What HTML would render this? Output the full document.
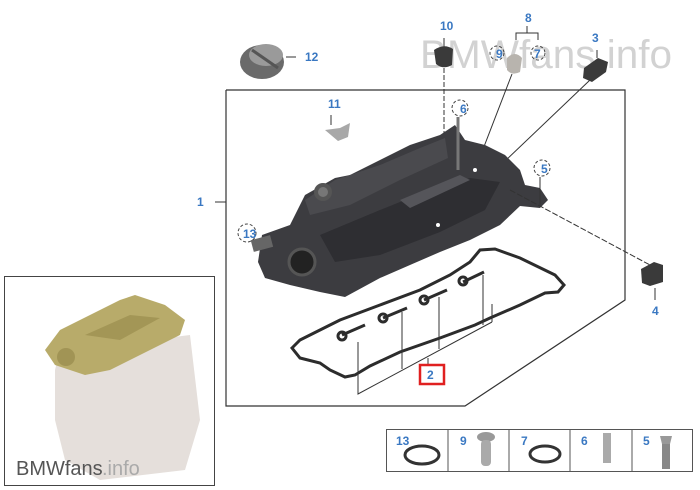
<!DOCTYPE html>
<html><head><meta charset="utf-8"><style>
html,body{margin:0;padding:0;background:#fff;width:700px;height:490px;overflow:hidden}
svg{display:block}
text{font-family:"Liberation Sans",sans-serif}
.l{fill:#3a78c2;font-size:12px;font-weight:bold}
</style></head><body>
<svg width="700" height="490" viewBox="0 0 700 490">
<text x="420" y="68" font-size="40" fill="#d2d2d2" textLength="252" lengthAdjust="spacingAndGlyphs">BMWfans.info</text>
<polyline points="226,90 625,90 625,300 465,406 226,406 226,90" fill="none" stroke="#333" stroke-width="1.2"/>
<line x1="215" y1="202" x2="226" y2="202" stroke="#333"/>
<text class="l" x="197" y="206">1</text>
<ellipse cx="262" cy="62" rx="22" ry="17" fill="#6a6a6a"/>
<ellipse cx="266" cy="55" rx="17" ry="11" fill="#9a9a9a"/>
<line x1="252" y1="50" x2="278" y2="68" stroke="#555" stroke-width="3"/>
<line x1="286" y1="57" x2="296" y2="57" stroke="#333"/>
<text class="l" x="305" y="61">12</text>
<text class="l" x="440" y="30">10</text>
<line x1="444" y1="38" x2="444" y2="47" stroke="#333"/>
<path d="M434,50 Q444,43 453,49 L452,65 Q443,70 436,64 Z" fill="#3a3a3a"/>
<line x1="444" y1="68" x2="444" y2="135" stroke="#333" stroke-dasharray="5,2"/>
<text class="l" x="525" y="22">8</text>
<polyline points="516,40 516,33 538,33 538,40" fill="none" stroke="#333"/>
<line x1="527" y1="26" x2="527" y2="33" stroke="#333"/>
<circle cx="497" cy="53" r="7" fill="none" stroke="#444" stroke-dasharray="3,2"/>
<text class="l" x="496" y="58">9</text>
<circle cx="538" cy="53" r="7" fill="none" stroke="#444" stroke-dasharray="3,2"/>
<text class="l" x="534" y="58">7</text>
<path d="M507,58 Q515,50 522,58 L520,72 Q512,76 507,70 Z" fill="#b8b4ae"/>
<line x1="512" y1="74" x2="475" y2="170" stroke="#333"/>
<text class="l" x="592" y="42">3</text>
<line x1="597" y1="50" x2="597" y2="58" stroke="#333"/>
<path d="M584,68 L598,58 L608,62 L606,72 L592,82 L583,78 Z" fill="#3a3a3a"/>
<line x1="590" y1="80" x2="438" y2="225" stroke="#333"/>
<!-- cover -->
<path d="M262,235 L290,225 L305,195 L335,178 L350,175 L380,160 L410,145 L440,135 L455,125 L465,140 L485,145 L505,155 L520,170 L525,185 L540,188 L548,200 L540,208 L520,206 L500,225 L470,240 L440,252 L410,265 L380,278 L345,297 L320,292 L290,285 L265,278 L258,262 Z" fill="#3c3c40"/>
<path d="M305,200 L335,180 L380,165 L420,148 L445,138 L448,158 L400,180 L350,205 L310,215 Z" fill="#4a4a4e"/>
<path d="M320,235 L380,210 L430,190 L470,178 L500,182 L485,210 L440,232 L380,255 L335,262 Z" fill="#2e2e32"/>
<path d="M400,200 L460,175 L470,180 L410,208 Z" fill="#55555a"/>
<circle cx="323" cy="192" r="9" fill="#555"/><circle cx="323" cy="192" r="5" fill="#777"/>
<circle cx="302" cy="262" r="13" fill="#222" stroke="#555" stroke-width="3"/>
<rect x="252" y="238" width="20" height="12" fill="#666" transform="rotate(-15 260 244)"/>
<circle cx="475" cy="170" r="2" fill="#fff"/><circle cx="438" cy="225" r="2" fill="#fff"/>
<text class="l" x="328" y="108">11</text>
<line x1="331" y1="115" x2="331" y2="125" stroke="#333"/>
<path d="M325,130 L340,128 L350,123 L348,137 L338,141 Z" fill="#a8a8a8"/>
<circle cx="460" cy="108" r="8" fill="none" stroke="#444" stroke-dasharray="3,2"/>
<text class="l" x="460" y="113">6</text>
<line x1="458" y1="117" x2="458" y2="170" stroke="#777" stroke-width="3"/>
<circle cx="542" cy="168" r="8" fill="none" stroke="#444" stroke-dasharray="3,2"/>
<text class="l" x="541" y="173">5</text>
<line x1="540" y1="177" x2="540" y2="205" stroke="#333"/>
<line x1="510" y1="190" x2="650" y2="265" stroke="#333" stroke-dasharray="6,2"/>
<circle cx="247" cy="233" r="9" fill="none" stroke="#444" stroke-dasharray="3,2"/>
<text class="l" x="243" y="238">13</text>
<path d="M641,269 L654,262 L663,265 L663,282 L650,286 L642,283 Z" fill="#3a3a3a"/>
<line x1="655" y1="288" x2="655" y2="300" stroke="#333"/>
<text class="l" x="652" y="315">4</text>
<path d="M292,348 L300,340 L320,330 L330,325 L340,320 L380,305 L420,290 L450,275 L470,262 L480,250 L495,249 L520,258 L555,275 L564,285 L558,292 L545,293 L520,305 L490,318 L475,325 L440,338 L400,352 L370,366 L355,375 L345,377 L330,370 L320,363 L300,358 Z" fill="none" stroke="#2c2c2c" stroke-width="3"/>
<g fill="none" stroke="#2c2c2c" stroke-width="3">
<path d="M342,335 L365,325"/><circle cx="342" cy="336" r="4"/>
<path d="M383,318 L407,308"/><circle cx="383" cy="318" r="4"/>
<path d="M424,300 L447,290"/><circle cx="424" cy="300" r="4"/>
<path d="M463,282 L484,272"/><circle cx="463" cy="281" r="4"/>
</g>
<g fill="none" stroke="#333">
<polyline points="358,342 358,394 492,322"/>
<line x1="402" y1="312" x2="402" y2="369"/>
<line x1="439" y1="297" x2="439" y2="349"/>
<line x1="483" y1="275" x2="483" y2="325"/>
<line x1="492" y1="304" x2="492" y2="322"/>
<line x1="428" y1="358" x2="428" y2="365"/>
</g>
<rect x="420" y="365" width="24" height="19" fill="#fff" stroke="#e02020" stroke-width="2.5"/>
<text class="l" x="427" y="379">2</text>
<rect x="4.5" y="276.5" width="210" height="209" fill="#fff" stroke="#444"/>
<path d="M55,370 L60,350 L85,335 L150,340 L190,335 L200,420 L185,470 L100,480 L65,460 L55,420 Z" fill="#e5dfdb"/>
<path d="M45,350 L60,330 L80,320 L120,300 L135,295 L165,305 L185,320 L180,335 L140,355 L110,370 L85,375 L55,365 Z" fill="#b8ab6a"/>
<path d="M85,335 L130,315 L160,318 L120,340 Z" fill="#a39656"/>
<circle cx="66" cy="357" r="9" fill="#a19455"/>
<text x="16" y="475" font-size="20" fill="#555">BMWfans</text><text x="102" y="475" font-size="20" fill="#aaa">.info</text>
<rect x="386.5" y="429.5" width="306" height="42" fill="#fff" stroke="#555"/>
<g stroke="#555"><line x1="448" y1="430" x2="448" y2="471"/><line x1="509" y1="430" x2="509" y2="471"/><line x1="570" y1="430" x2="570" y2="471"/><line x1="632" y1="430" x2="632" y2="471"/></g>
<text class="l" x="396" y="445">13</text>
<ellipse cx="422" cy="455" rx="17" ry="9" fill="none" stroke="#333" stroke-width="3"/>
<text class="l" x="460" y="445">9</text>
<ellipse cx="486" cy="437" rx="9" ry="5" fill="#999"/>
<rect x="481" y="440" width="10" height="26" rx="4" fill="#aaa"/>
<text class="l" x="521" y="445">7</text>
<ellipse cx="545" cy="454" rx="15" ry="8" fill="none" stroke="#333" stroke-width="3"/>
<text class="l" x="581" y="445">6</text>
<rect x="603" y="433" width="8" height="30" fill="#aaa"/>
<text class="l" x="643" y="445">5</text>
<path d="M660,436 L672,436 L670,444 L662,444 Z" fill="#999"/>
<rect x="662" y="444" width="8" height="25" fill="#888"/>
</svg>
</body></html>
